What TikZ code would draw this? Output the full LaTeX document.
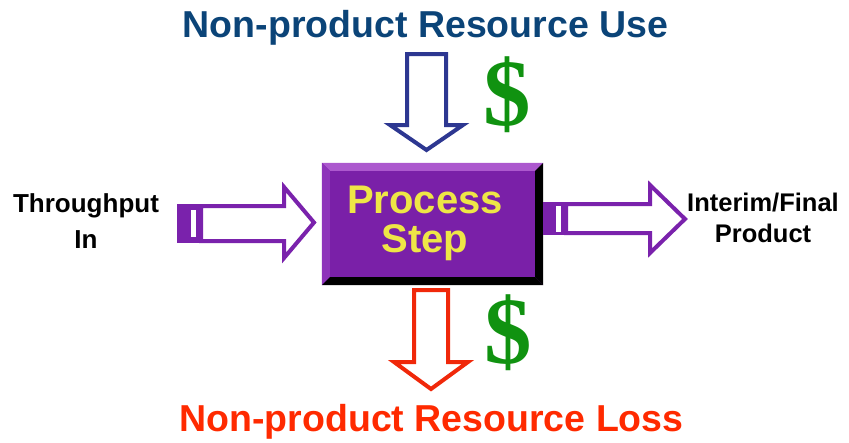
\documentclass[tikz,border=0pt]{standalone}
\usepackage{fontspec}
\setmainfont{Liberation Sans}
\newfontfamily\dollarfont{Liberation Serif}
\usepackage{tikz}
\usetikzlibrary{calc}
\definecolor{useblue}{RGB}{11,68,120}
\definecolor{lossred}{RGB}{255,42,0}
\definecolor{arrowblue}{RGB}{45,55,145}
\definecolor{arrowred}{RGB}{240,40,10}
\definecolor{stepviolet}{RGB}{122,32,168}
\definecolor{bevellight}{RGB}{172,88,206}
\definecolor{bevelmid}{RGB}{142,52,186}
\definecolor{flowviolet}{RGB}{122,34,172}
\definecolor{moneygreen}{RGB}{16,146,16}
\definecolor{stepyellow}{RGB}{238,230,70}
\tikzset{x=1pt, y=-1pt,
  title/.style={font=\bfseries\fontsize{37.5}{40}\selectfont, anchor=base, inner sep=0pt},
  sidetext/.style={align=center, anchor=north, inner sep=0pt},
  steptext/.style={font=\bfseries\fontsize{40}{40}\selectfont, text=stepyellow, anchor=base, inner sep=0pt},
  blockarrow/.style={line width=4pt, line join=miter, fill=white},
  money/.style={font=\dollarfont\bfseries\fontsize{95}{95}\selectfont, text=moneygreen, inner sep=0pt}}

\begin{document}
\begin{tikzpicture}
  \useasboundingbox (0,0) rectangle (849,442);
  % titles
  \node (use) [title, text=useblue] at (425.5,37) {Non-product Resource Use};
  \node (loss) [title, text=lossred] at (431.5,431) {Non-product Resource Loss};
  % process box
  \node (step) [fill=stepviolet, minimum width=221pt, minimum height=122pt, inner sep=0pt] at (432.5,224) {};
  \fill[bevellight] (step.north west) -- (step.north east) -- ($(step.north east)+(-8,8)$) -- ($(step.north west)+(8,8)$) -- cycle;
  \fill[bevelmid] (step.north west) -- ($(step.north west)+(8,8)$) -- ($(step.south west)+(8,-8)$) -- (step.south west) -- cycle;
  \fill[black] (step.north east) -- (step.south east) -- ($(step.south east)+(-8,-8)$) -- ($(step.north east)+(-8,8)$) -- cycle;
  \fill[black] (step.south west) -- (step.south east) -- ($(step.south east)+(-8,-8)$) -- ($(step.south west)+(8,-8)$) -- cycle;
  \node (proc) [steptext] at (425,213) {Process};
  \node (stp)  [steptext] at (425,252) {Step};
  % resource arrows
  \draw[blockarrow, draw=arrowblue] (407,54) -- (446,54) -- (446,125) -- (463,125) -- (426.5,150) -- (390,125) -- (407,125) -- cycle;
  \draw[blockarrow, draw=arrowred] (414,290) -- (448,290) -- (448,362) -- (468,362) -- (431,389) -- (394,362) -- (414,362) -- cycle;
  \node (dtop) [money] at (507,95) {\$};
  \node (dbot) [money] at (508,333) {\$};
  % flow arrows
  \draw[blockarrow, draw=flowviolet] (201,206) -- (284,206) -- (284,187) -- (314,222.5) -- (284,258) -- (284,241) -- (201,241) -- cycle;
  \fill[flowviolet] (177,204) rectangle (203,243);
  \fill[white] (191,210) rectangle (196,237);
  \draw[blockarrow, draw=flowviolet] (566,204) -- (650,204) -- (650,185) -- (685,219) -- (650,253) -- (650,233) -- (566,233) -- cycle;
  \fill[flowviolet] (543,202) rectangle (568,235);
  \fill[white] (556,206) rectangle (561,232);
  % side labels
  \node (tin) [sidetext, font=\bfseries\fontsize{26}{36}\selectfont] at (86,193) {Throughput\\In};
  \node (tout) [sidetext, font=\bfseries\fontsize{25.5}{31}\selectfont] at (763,193) {Interim/Final\\Product};
\end{tikzpicture}
\end{document}
